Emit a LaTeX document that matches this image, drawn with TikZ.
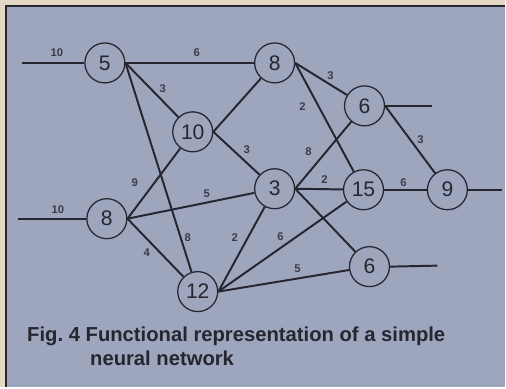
\documentclass[tikz,border=0pt]{standalone}
\usepackage{fontspec}
\setmainfont{Liberation Sans}
\usepackage{tikz}
\usetikzlibrary{positioning}
\definecolor{panel}{RGB}{158,166,190}
\definecolor{paper}{RGB}{226,216,196}
\definecolor{ink}{RGB}{38,38,48}
\definecolor{wtink}{RGB}{60,60,72}

\begin{document}
\begin{tikzpicture}[x=0.025cm, y=-0.025cm,
    neuron/.style={circle, draw=ink, line width=0.9pt, minimum size=1cm,
      inner sep=0pt, font=\fontsize{15}{15}\selectfont, text=ink},
    link/.style={ink, line width=1.4pt},
    wt/.style={font=\fontsize{8}{8}\selectfont\bfseries, text=wtink, inner sep=0pt},
    caption/.style={anchor=base west, inner sep=0pt, text=ink,
      font=\fontsize{14.4}{14.4}\selectfont\bfseries}]
  % Background and frame
  \fill[paper] (0,0) rectangle (506,388);
  \fill[panel] (6,6) rectangle (506,388);
  \draw[ink, line width=1pt] (506,6) -- (6,6) -- (6,388);
  \useasboundingbox (0,0) rectangle (506,388);
  % Neurons
  \node[neuron] (n5)  at (105,63)  {5};
  \node[neuron] (n8a) at (275,63)  {8};
  \node[neuron] (n10) at (193,132) {10};
  \node[neuron] (n6a) at (365,106) {6};
  \node[neuron] (n3)  at (275,189) {3};
  \node[neuron] (n15) at (364,190) {15};
  \node[neuron] (n9)  at (448,190) {9};
  \node[neuron] (n8b) at (107,219) {8};
  \node[neuron] (n12) at (198,292) {12};
  \node[neuron] (n6b) at (370,267) {6};
  % Inputs and outputs
  \coordinate (in1)  at (22,63);
  \coordinate (in2)  at (18,219);
  \coordinate (out1) at (433,106);
  \coordinate (out2) at (503,190);
  \coordinate (out3) at (438,266);
  \draw[link] (in1) -- (n5.west);
  \draw[link] (in2) -- (n8b.west);
  \draw[link] (n6a.east) -- (out1);
  \draw[link] (n9.east) -- (out2);
  \draw[link] (n6b.east) -- (out3);
  % Connections, each leaving its source at the east side
  \draw[link] (n5.east) -- (n8a);
  \draw[link] (n5.east) -- (n10);
  \draw[link] (n5.east) -- (n12);
  \draw[link] (n8b.east) -- (n10);
  \draw[link] (n8b.east) -- (n3);
  \draw[link] (n8b.east) -- (n12);
  \draw[link] (n10.east) -- (n8a);
  \draw[link] (n10.east) -- (n3);
  \draw[link] (n12.east) -- (n3);
  \draw[link] (n12.east) -- (n15);
  \draw[link] (n12.east) -- (n6b);
  \draw[link] (n8a.east) -- (n6a);
  \draw[link] (n8a.east) -- (n15);
  \draw[link] (n3.east) -- (n6a);
  \draw[link] (n3.east) -- (n15);
  \draw[link] (n3.east) -- (n6b);
  \draw[link] (n6a.east) -- (n9);
  \draw[link] (n15.east) -- (n9);
  % Weights
  \node[wt] (w1)  at (57,53)   {10};
  \node[wt] (w2)  at (58,210)  {10};
  \node[wt] (w3)  at (197,53)  {6};
  \node[wt] (w4)  at (163,89)  {3};
  \node[wt] (w5)  at (247,150) {3};
  \node[wt] (w6)  at (135,183) {9};
  \node[wt] (w7)  at (207,194) {5};
  \node[wt] (w8)  at (188,238) {8};
  \node[wt] (w9)  at (147,253) {4};
  \node[wt] (w10) at (235,238) {2};
  \node[wt] (w11) at (281,237) {6};
  \node[wt] (w12) at (298,269) {5};
  \node[wt] (w13) at (309,152) {8};
  \node[wt] (w14) at (325,180) {2};
  \node[wt] (w15) at (303,107) {2};
  \node[wt] (w16) at (331,76)  {3};
  \node[wt] (w17) at (421,140) {3};
  \node[wt] (w18) at (404,183) {6};
  % Caption
  \node[caption] (cap1) at (27,342) {Fig.\ 4 Functional representation of a simple};
  \node[caption] (cap2) at (90,366) {neural network};
\end{tikzpicture}
\end{document}
